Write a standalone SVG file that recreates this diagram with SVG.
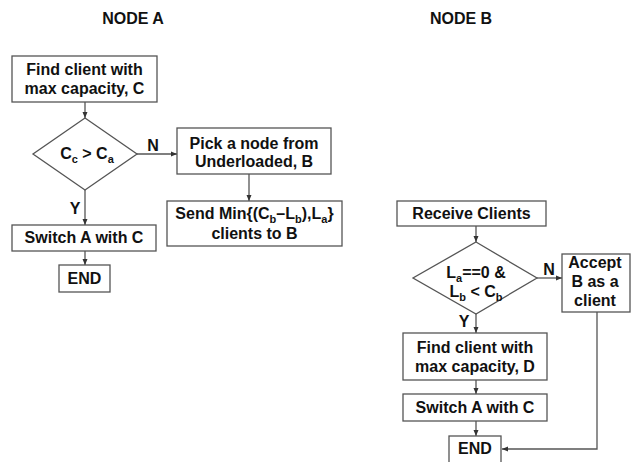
<svg xmlns="http://www.w3.org/2000/svg" width="631" height="462" viewBox="0 0 631 462">
<defs>
<style>
.box{fill:#fff;stroke:#555;stroke-width:1.3}
.ln{fill:none;stroke:#555;stroke-width:1.3}
.t{font-family:"Liberation Sans",Arial,sans-serif;font-weight:bold;font-size:16px;fill:#111;text-anchor:middle}
.s{font-size:11px}
</style>
<marker id="ah" viewBox="0 0 6 6" refX="6" refY="3" markerWidth="6" markerHeight="6" markerUnits="userSpaceOnUse" orient="auto">
<path d="M0,0.5 L6,3 L0,5.5 z" fill="#333"/>
</marker>
</defs>
<rect width="631" height="462" fill="#fff"/>
<text class="t" x="133" y="24">NODE A</text>
<text class="t" x="461" y="24">NODE B</text>

<g id="connectors">
<line class="ln" x1="85" y1="102" x2="85" y2="118" marker-end="url(#ah)"/>
<line class="ln" x1="137" y1="154" x2="177" y2="154" marker-end="url(#ah)"/>
<line class="ln" x1="249" y1="174" x2="249" y2="201" marker-end="url(#ah)"/>
<line class="ln" x1="85" y1="190" x2="85" y2="225" marker-end="url(#ah)"/>
<line class="ln" x1="85" y1="251" x2="85" y2="265" marker-end="url(#ah)"/>
<line class="ln" x1="476" y1="226" x2="476" y2="242" marker-end="url(#ah)"/>
<line class="ln" x1="537" y1="278" x2="562" y2="278" marker-end="url(#ah)"/>
<line class="ln" x1="476" y1="314" x2="476" y2="333" marker-end="url(#ah)"/>
<line class="ln" x1="476" y1="380" x2="476" y2="394" marker-end="url(#ah)"/>
<line class="ln" x1="476" y1="421" x2="476" y2="436" marker-end="url(#ah)"/>
<polyline class="ln" points="597,312 597,449 502,449" marker-end="url(#ah)"/>
<text class="t" x="153" y="151">N</text>
<text class="t" x="75" y="214">Y</text>
<text class="t" x="549" y="275">N</text>
<text class="t" x="464" y="327">Y</text>
</g>

<g id="a_find">
<rect class="box" x="12" y="56" width="145" height="46"/>
<text class="t" x="84.5" y="75">Find client with</text>
<text class="t" x="84.5" y="94">max capacity, C</text>
</g>
<g id="a_decision">
<polygon class="box" points="85,118 137,154 85,190 33,154"/>
<text class="t" x="87" y="159">C<tspan class="s" dy="4">c</tspan><tspan dy="-4"> &gt; C</tspan><tspan class="s" dy="4">a</tspan></text>
</g>
<g id="a_pick">
<rect class="box" x="177" y="128" width="154" height="46"/>
<text class="t" x="254" y="149">Pick a node from</text>
<text class="t" x="254" y="167">Underloaded, B</text>
</g>
<g id="a_send">
<rect class="box" x="167" y="201" width="175" height="45"/>
<text class="t" x="254.5" y="219">Send Min{(C<tspan class="s" dy="4">b</tspan><tspan dy="-4">–L</tspan><tspan class="s" dy="4">b</tspan><tspan dy="-4">),L</tspan><tspan class="s" dy="4">a</tspan><tspan dy="-4">}</tspan></text>
<text class="t" x="254.5" y="239">clients to B</text>
</g>
<g id="a_switch">
<rect class="box" x="12" y="225" width="144" height="26"/>
<text class="t" x="84" y="243">Switch A with C</text>
</g>
<g id="a_end">
<rect class="box" x="59" y="265" width="51" height="27"/>
<text class="t" x="84.5" y="284">END</text>
</g>

<g id="b_receive">
<rect class="box" x="397" y="201" width="149" height="25"/>
<text class="t" x="471.5" y="219">Receive Clients</text>
</g>
<g id="b_decision">
<polygon class="box" points="476,242 537,278 476,314 413,278"/>
<text class="t" x="476" y="278">L<tspan class="s" dy="4">a</tspan><tspan dy="-4">==0 &amp;</tspan></text>
<text class="t" x="476" y="297">L<tspan class="s" dy="4">b</tspan><tspan dy="-4"> &lt; C</tspan><tspan class="s" dy="4">b</tspan></text>
</g>
<g id="b_accept">
<rect class="box" x="562" y="254" width="68" height="58"/>
<text class="t" x="595" y="268">Accept</text>
<text class="t" x="595" y="287">B as a</text>
<text class="t" x="595" y="306">client</text>
</g>
<g id="b_find">
<rect class="box" x="403" y="333" width="144" height="47"/>
<text class="t" x="475" y="353">Find client with</text>
<text class="t" x="475" y="372">max capacity, D</text>
</g>
<g id="b_switch">
<rect class="box" x="403" y="394" width="144" height="27"/>
<text class="t" x="475" y="413">Switch A with C</text>
</g>
<g id="b_end">
<rect class="box" x="449" y="436" width="52" height="30"/>
<text class="t" x="475" y="454">END</text>
</g>
</svg>
